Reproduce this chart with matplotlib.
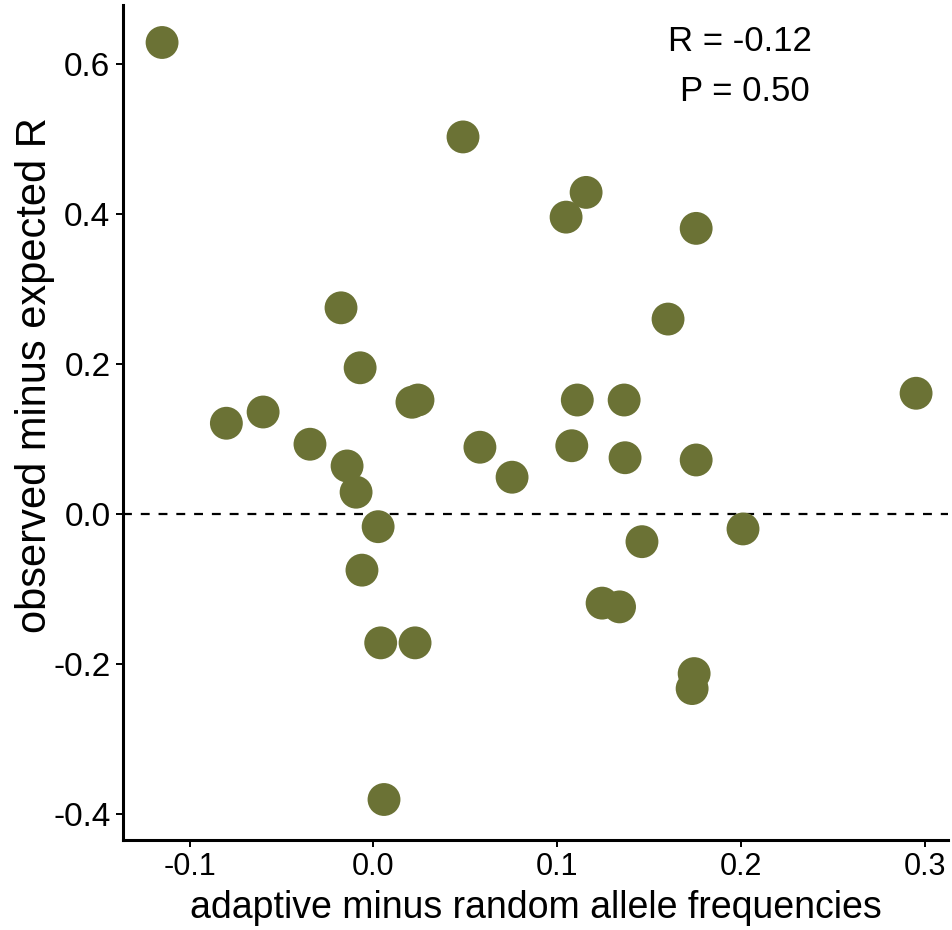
import matplotlib
matplotlib.use("Agg")
import matplotlib.pyplot as plt

# values
freq_diff = [-0.115, -0.080, -0.060, -0.0345, -0.0176, -0.0143, -0.0094, -0.0072,
             -0.0062, 0.0026, 0.004, 0.0058, 0.021, 0.0243, 0.0227, 0.0488,
             0.058, 0.0755, 0.1049, 0.1158, 0.108, 0.111, 0.1245, 0.134,
             0.1365, 0.137, 0.1462, 0.1604, 0.1757, 0.1757, 0.1746, 0.1735,
             0.2012, 0.2954]
r_diff = [0.629, 0.121, 0.136, 0.093, 0.275, 0.064, 0.029, 0.195,
          -0.075, -0.017, -0.172, -0.381, 0.149, 0.152, -0.172, 0.503,
          0.089, 0.049, 0.396, 0.429, 0.091, 0.152, -0.119, -0.124,
          0.152, 0.075, -0.037, 0.260, 0.381, 0.072, -0.213, -0.233,
          -0.020, 0.161]
stat_lines = ["R = -0.12", "P = 0.50"]
xticks = [-0.1, 0.0, 0.1, 0.2, 0.3]
yticks = [-0.4, -0.2, 0.0, 0.2, 0.4, 0.6]

plt.rcParams['font.family'] = ['Liberation Sans', 'DejaVu Sans']

fig = plt.figure(figsize=(9.53, 9.3), dpi=100)
ax = fig.add_axes([0.129, 0.0968, 0.866, 0.8978])

ax.axhline(0, color='black', linestyle=(0, (4, 4)), linewidth=1.6, zorder=1)
ax.scatter(freq_diff, r_diff, s=560, color='#6b7235', edgecolors='none', zorder=2)

ax.set_xlim(-0.1363, 0.3129)
ax.set_ylim(-0.435, 0.679)
ax.set_xticks(xticks)
ax.set_xticklabels([f"{t:.1f}" for t in xticks])
ax.set_yticks(yticks)
ax.set_yticklabels([f"{t:.1f}" for t in yticks])

for side in ['top', 'right']:
    ax.spines[side].set_visible(False)
for side in ['left', 'bottom']:
    ax.spines[side].set_linewidth(2.2)
ax.tick_params(axis='both', direction='out', length=5, width=1.4, pad=4)
ax.tick_params(axis='x', labelsize=22)
ax.tick_params(axis='y', labelsize=24)

ax.set_xlabel("adaptive minus random allele frequencies", fontsize=27)
ax.xaxis.set_label_coords(0.5, -0.081)
ax.xaxis.label.set_va('center')
ax.set_ylabel("observed minus expected R", fontsize=30)
ax.yaxis.set_label_coords(-0.107, 0.557)
ax.yaxis.label.set_va('center')

ax.text(0.748, 0.956, stat_lines[0], transform=ax.transAxes, ha='center', va='center', fontsize=25)
ax.text(0.754, 0.896, stat_lines[1], transform=ax.transAxes, ha='center', va='center', fontsize=25)

fig.savefig("out.png", dpi=100)
